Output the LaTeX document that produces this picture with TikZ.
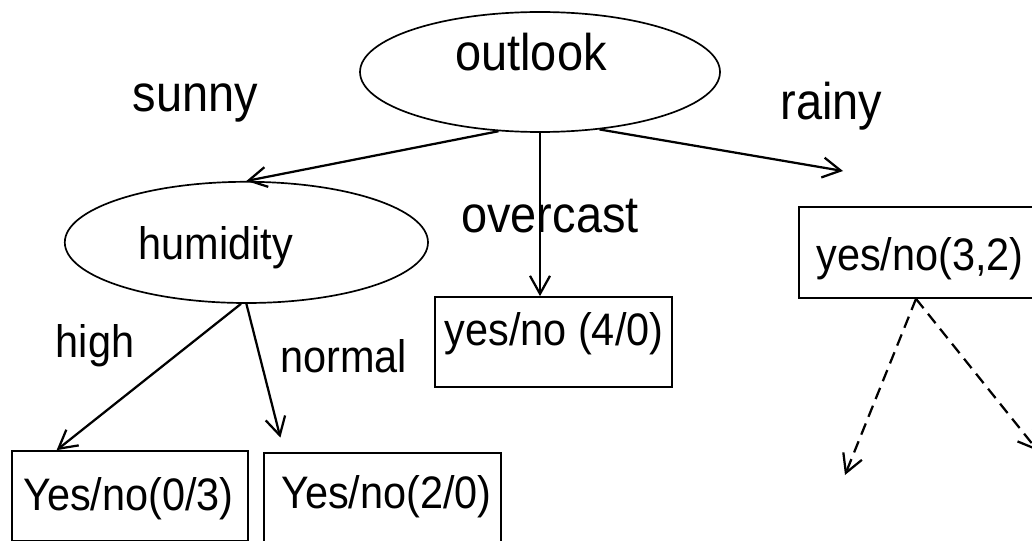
\documentclass[tikz,border=0pt]{standalone}
\usepackage{fontspec}
\setmainfont[FakeStretch=0.91]{Liberation Sans}
\usetikzlibrary{shapes.geometric,arrows.meta}

\begin{document}
\begin{tikzpicture}[
    split/.style={ellipse, draw, line width=1.2pt, inner sep=0pt},
    leaf/.style={rectangle, draw, line width=1.2pt, inner sep=0pt},
    big/.style={font=\fontsize{36.7}{44}\selectfont, anchor=base},
    small/.style={font=\fontsize{32.4}{39}\selectfont, anchor=base},
    branch/.style={line width=1.6pt, -{Straight Barb[length=0.45cm,width=0.5cm]}}
  ]
  \useasboundingbox (0,0) rectangle (25.8,13.5);

  % Draw the two test nodes
  \node[split, minimum width=9cm, minimum height=3cm] (outlook) at (13.5,11.7) {};
  \node[big] (outlooktxt) at (13.275,11.725) {outlook};
  \node[split, minimum width=9.08cm, minimum height=3.03cm] (humidity) at (6.16,7.44) {};
  \node[small] (humiditytxt) at (5.4,7.025) {humidity};

  % Draw the leaf boxes
  \node[leaf, minimum width=5.93cm, minimum height=2.25cm] (fourzero) at (13.84,4.95) {};
  \node[small] (fourzerotxt) at (13.85,4.875) {yes/no (4/0)};
  \node[leaf, minimum width=5.85cm, minimum height=2.28cm] (threetwo) at (22.9,7.19) {};
  \node[small] (threetwotxt) at (23.0,6.75) {yes/no(3,2)};
  \node[leaf, minimum width=5.9cm, minimum height=2.25cm] (zerothree) at (3.25,1.1) {};
  \node[small] (zerothreetxt) at (3.21,0.75) {Yes/no(0/3)};
  \node[leaf, minimum width=5.93cm, minimum height=2.25cm] (twozero) at (9.56,1.05) {};
  \node[small] (twozerotxt) at (9.66,0.8) {Yes/no(2/0)};

  % Free ends of the arrows
  \coordinate (rainyend) at (21.075,9.225);
  \coordinate (leftend) at (21.125,1.625);
  \coordinate (rightend) at (25.95,2.225);

  % Draw the branches
  \draw[branch] (outlook.235) -- (humidity.north);
  \draw[branch] (outlook.south) -- (outlook.south |- fourzero.north);
  \draw[branch] (outlook.316) -- (rainyend);
  \draw[branch] (humidity.265) -- (zerothree.148);
  \draw[branch, shorten >=0.375cm] (humidity.south) -- (twozero.155);
  \draw[branch, dash pattern=on 0.3cm off 0.18cm] (threetwo.south) -- (leftend);
  \draw[branch, dash pattern=on 0.3cm off 0.18cm] (threetwo.south) -- (rightend);

  % Branch labels
  \node[big] (sunny) at (4.89,10.7) {sunny};
  \node[big] (rainy) at (20.79,10.5) {rainy};
  \node[big] (overcast) at (13.75,7.7) {overcast};
  \node[small] (high) at (2.375,4.575) {high};
  \node[small] (normal) at (8.59,4.2) {normal};
\end{tikzpicture}
\end{document}
